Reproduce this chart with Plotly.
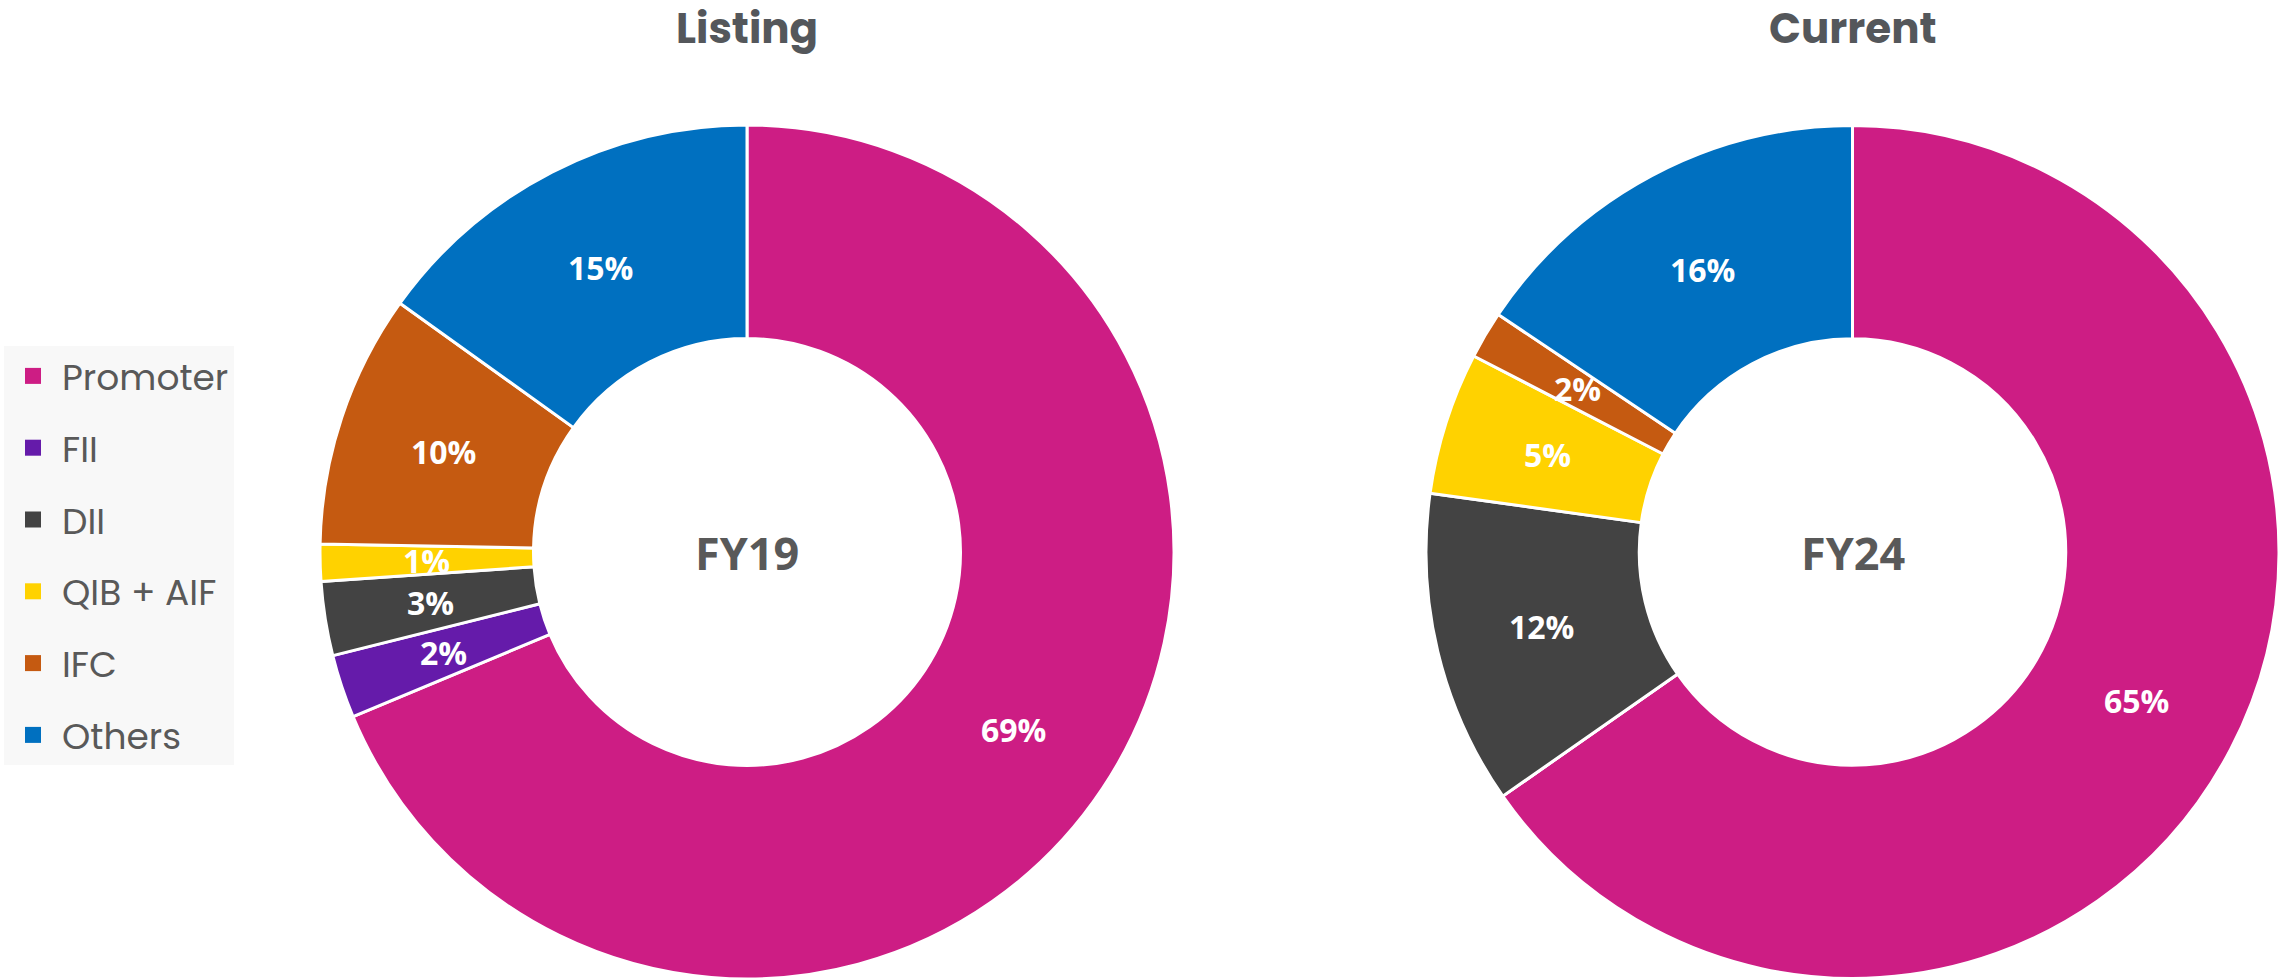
import math
import plotly.graph_objs as go

# shareholding categories and values (% of shares)
categories = ["Promoter", "FII", "DII", "QIB + AIF", "IFC", "Others"]
listing_fy19 = [68.7, 2.4, 2.8, 1.4, 9.6, 15.1]
current_fy24 = [65.3, 0, 11.9, 5.4, 1.8, 15.6]
colors = ["#CD1D84", "#651BAA", "#434343", "#FFD200", "#C55A11", "#0070C0"]

W, H = 2279, 980
R = 427
CY = 552
donuts = [("Listing", "FY19", listing_fy19, 747), ("Current", "FY24", current_fy24, 1853)]

fig = go.Figure()

def donut(values, cx, name):
	return go.Pie(
		labels=categories,
		values=values,
		name=name,
		hole=0.5,
		sort=False,
		direction="clockwise",
		domain=dict(x=[(cx - R) / W, min(1.0, (cx + R) / W)], y=[(H - CY - R) / H, (H - CY + R) / H]),
		marker=dict(colors=colors, line=dict(color="white", width=3)),
		textinfo="none",
		hoverinfo="label+percent",
		showlegend=False,
	)

def slice_labels(values, cx):
	# labels sit at the middle of the ring, at each slice's mid angle
	total = sum(values)
	start = 0
	for v in values:
		if v > 0:
			mid = math.radians(360 * (start + v / 2) / total)
			fig.add_annotation(
				x=cx + 0.75 * R * math.sin(mid), y=CY - 0.75 * R * math.cos(mid),
				xref="x", yref="y", text="<b>%.0f%%</b>" % v, showarrow=False,
				xanchor="center", yanchor="middle",
				font=dict(family="Open Sans", size=32, color="white"))
		start += v

for title, fy, vals, cx in donuts:
	fig.add_trace(donut(vals, cx, fy))
	slice_labels(vals, cx)
	fig.add_annotation(x=cx, y=28, xref="x", yref="y", text=title,
		showarrow=False, xanchor="center", yanchor="middle",
		font=dict(family="Poppins", size=42, color="#54575B", weight=700))
	fig.add_annotation(x=cx, y=CY, xref="x", yref="y", text="<b>" + fy + "</b>",
		showarrow=False, xanchor="center", yanchor="middle",
		font=dict(family="Open Sans", size=45, color="#595959"))

# legend entries (dummy traces so item spacing can be controlled)
for i in range(len(categories)):
	fig.add_trace(go.Scatter(
		x=[None], y=[None], mode="markers", name=categories[i],
		legendgroup=categories[i], hoverinfo="skip",
		marker=dict(symbol="square", size=20, color=colors[i]),
	))

fig.update_layout(
	width=W, height=H,
	margin=dict(l=0, r=0, t=0, b=0, autoexpand=False),
	paper_bgcolor="white", plot_bgcolor="rgba(0,0,0,0)",
	xaxis=dict(visible=False, range=[0, W], fixedrange=True),
	yaxis=dict(visible=False, range=[H, 0], fixedrange=True),
	legend=dict(
		x=4 / W, y=1 - 346 / H, xanchor="left", yanchor="top",
		bgcolor="#F8F8F8", tracegroupgap=22, itemwidth=48,
		font=dict(family="Poppins", size=36, color="#595959"),
	),
)

fig.write_html("out.html", config=dict(displayModeBar=False),
	post_script="document.body.style.margin='0px';")
